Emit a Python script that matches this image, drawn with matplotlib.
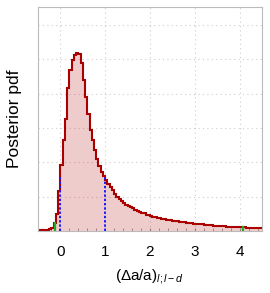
import numpy as np
import matplotlib
matplotlib.use("Agg")
import matplotlib.pyplot as plt

plt.rcParams['font.family'] = ['Liberation Sans', 'DejaVu Sans']
plt.rcParams['mathtext.fontset'] = 'custom'
plt.rcParams['mathtext.rm'] = 'Liberation Sans'
plt.rcParams['mathtext.it'] = 'Liberation Sans:italic'

# posterior histogram, bin width 0.05 from -0.5 to 4.5
bin_lo, bin_hi = -0.5, 4.5
pdf = [
    0.01, 0.015, 0.02, 0.03, 0.04, 0.06, 0.09, 0.22, 0.5, 1.15,
    1.92, 2.65, 3.25, 4.15, 4.68, 4.97, 5.12, 5.17, 5.15, 4.9,
    4.4, 3.9, 3.4, 2.95, 2.65, 2.35, 2.1, 1.88, 1.72, 1.6,
    1.48, 1.38, 1.28, 1.18, 1.08, 1.0, 0.94, 0.88, 0.82, 0.77,
    0.73, 0.69, 0.66, 0.62, 0.59, 0.56, 0.53, 0.51, 0.48, 0.46,
    0.44, 0.42, 0.40, 0.39, 0.37, 0.35, 0.34, 0.33, 0.32, 0.31,
    0.30, 0.29, 0.28, 0.27, 0.26, 0.25, 0.24, 0.23, 0.22, 0.21,
    0.21, 0.20, 0.19, 0.19, 0.18, 0.18, 0.17, 0.17, 0.16, 0.16,
    0.15, 0.15, 0.14, 0.14, 0.13, 0.13, 0.13, 0.12, 0.12, 0.12,
    0.11, 0.11, 0.11, 0.10, 0.10, 0.10, 0.09, 0.09, 0.09, 0.09,
]
# blue dotted markers (interval) and green limits
blue_x = [0.0, 1.0]
blue_h = [1.6, 1.6]
green_x = [-0.13, 4.07]
green_h = [0.22, 0.11]

xticks = [0, 1, 2, 3, 4]

edges = np.linspace(bin_lo, bin_hi, len(pdf) + 1)

fig = plt.figure(figsize=(2.70, 2.93), dpi=100)
ax = fig.add_axes([0.1407, 0.2116, 0.8297, 0.7645])

ax.set_xlim(bin_lo, bin_hi)
ax.set_ylim(0, 6.52)

ax.stairs(pdf, edges, fill=True, color='#b30000', alpha=0.2, lw=0)
ax.stairs(pdf, edges, baseline=None, color='#aa0000', lw=1.5)

for x, h in zip(blue_x, blue_h):
    ax.plot([x, x], [0, h], color='#1a1aff', lw=1.4, ls=(0, (1.2, 1.0)))
for x, h in zip(green_x, green_h):
    ax.plot([x, x], [0, h], color='#22aa22', lw=1.6)

ax.set_xticks(xticks)
ax.set_xticks(np.arange(-0.4, 4.5, 0.2), minor=True)
ax.set_yticks(np.arange(1, 7))
ax.set_yticklabels([])
ax.tick_params(axis='y', length=0)
ax.tick_params(axis='x', which='both', direction='in', length=2,
               color='#999999', labelsize=11, pad=10)
ax.grid(True, color='#cccccc', ls=(0, (1, 3)), lw=0.8)
ax.set_axisbelow(True)

for s in ax.spines.values():
    s.set_color('#bbbbbb')
    s.set_linewidth(0.8)

ax.set_ylabel('Posterior pdf', fontsize=12.5, labelpad=8)
ax.set_xlabel('(Δa/a)$_{l;l-d}$', fontsize=11, labelpad=6)

fig.savefig('out.png', dpi=100)
